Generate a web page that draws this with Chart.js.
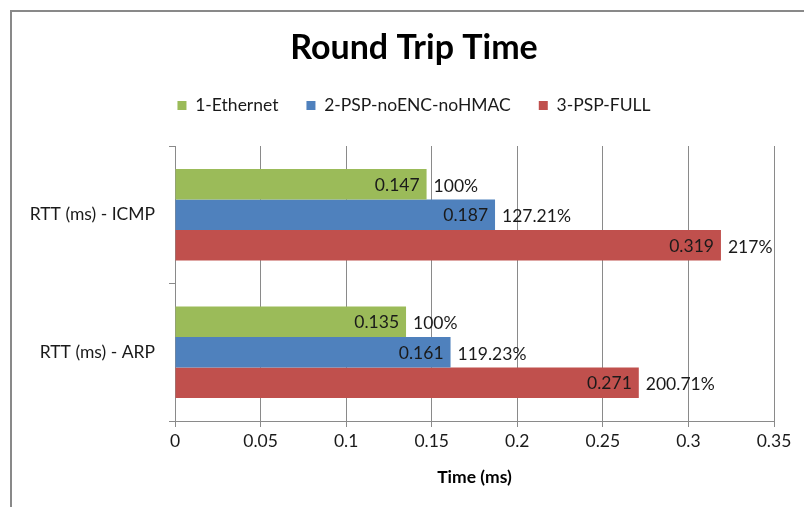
<!DOCTYPE html>
<html>
<head>
<meta charset="utf-8">
<script src="https://cdn.jsdelivr.net/npm/chart.js@4/dist/chart.umd.min.js"></script>
<style>
  html, body { margin: 0; padding: 0; background: #fff; }
  #wrap { position: relative; width: 804px; height: 507px; overflow: hidden; }
  #frame { position: absolute; left: 10px; top: 10px; width: 900px; height: 600px;
           border-left: 2px solid #898989; border-top: 2px solid #898989; pointer-events: none; }
  canvas { position: absolute; left: 0; top: 0; }
</style>
</head>
<body>
<div id="wrap">
  <canvas id="c" width="804" height="507"></canvas>
  <div id="frame"></div>
</div>
<script>
const categories = ['RTT (ms) - ICMP', 'RTT (ms) - ARP'];
const seriesNames = ['1-Ethernet', '2-PSP-noENC-noHMAC', '3-PSP-FULL'];
const ethernet = [0.147, 0.135];
const pspNoEnc = [0.187, 0.161];
const pspFull = [0.319, 0.271];
const ethernetPct = ['100%', '100%'];
const pspNoEncPct = ['127.21%', '119.23%'];
const pspFullPct = ['217%', '200.71%'];
const xTicks = [0, 0.05, 0.1, 0.15, 0.2, 0.25, 0.3, 0.35];

const FONT = 'Lato';
const FS = 17.5;
const colors = ['#9BBB59', '#4F81BD', '#C0504D'];
const pctLabels = [ethernetPct, pspNoEncPct, pspFullPct];

const labelPlugin = {
  id: 'barLabels',
  afterInit(chart) {
    const lg = chart.legend;
    if (lg) {
      const f = lg.fit;
      lg.fit = function () { f.call(this); this.height += 21.7; };
    }
  },
  afterDatasetsDraw(chart) {
    const ctx = chart.ctx;
    ctx.save();
    ctx.font = FS + 'px ' + FONT;
    ctx.fillStyle = '#1a1a1a';
    ctx.textBaseline = 'middle';
    chart.data.datasets.forEach((ds, di) => {
      const meta = chart.getDatasetMeta(di);
      meta.data.forEach((el, i) => {
        const v = ds.data[i];
        ctx.textAlign = 'right';
        ctx.fillText(String(v), el.x - 7, el.y + 1);
        ctx.textAlign = 'left';
        ctx.fillText(pctLabels[di][i], el.x + 7, el.y + 2);
      });
    });
    ctx.restore();
  }
};

new Chart(document.getElementById('c'), {
  type: 'bar',
  data: {
    labels: categories,
    datasets: [
      { label: seriesNames[0], data: ethernet, backgroundColor: colors[0] },
      { label: seriesNames[1], data: pspNoEnc, backgroundColor: colors[1] },
      { label: seriesNames[2], data: pspFull, backgroundColor: colors[2] }
    ]
  },
  options: {
    indexAxis: 'y',
    responsive: false,
    animation: false,
    devicePixelRatio: 1,
    layout: { padding: { left: 24, right: 0, top: 0, bottom: 0 } },
    datasets: { bar: { categoryPercentage: 0.667, barPercentage: 1.0 } },
    plugins: {
      title: {
        display: true,
        text: 'Round Trip Time',
        color: '#000',
        font: { family: FONT, size: 34, weight: 'bold' },
        padding: { top: 28, bottom: 0 }
      },
      legend: {
        display: true,
        position: 'top',
        labels: {
          color: '#1a1a1a',
          font: { family: FONT, size: FS },
          boxWidth: 9,
          boxHeight: 9,
          padding: 28
        }
      },
      tooltip: { enabled: false }
    },
    scales: {
      x: {
        type: 'linear',
        position: 'bottom',
        min: 0,
        max: 0.35,
        afterBuildTicks(scale) { scale.ticks = xTicks.map(v => ({ value: v })); },
        afterFit(scale) { scale.height = 86; },
        ticks: {
          color: '#1a1a1a',
          font: { family: FONT, size: FS },
          padding: 4,
          callback: (v) => String(v)
        },
        grid: { color: '#8a8a8a', lineWidth: 1, tickLength: 6, drawTicks: true },
        border: { display: true, color: '#8a8a8a' },
        title: {
          display: true,
          text: 'Time (ms)',
          color: '#000',
          font: { family: FONT, size: FS, weight: 'bold' },
          padding: { top: 0, bottom: 19 }
        }
      },
      y: {
        type: 'category',
        position: 'left',
        offset: true,
        afterFit(scale) { scale.width = 151; },
        ticks: { color: '#1a1a1a', font: { family: FONT, size: FS }, padding: 14 },
        grid: { offset: true, drawOnChartArea: false, drawTicks: true, tickLength: 6, color: '#8a8a8a' },
        border: { display: true, color: '#8a8a8a' }
      },
      yR: {
        type: 'linear',
        position: 'right',
        display: true,
        afterFit(scale) { scale.width = 30; },
        ticks: { display: false },
        grid: { display: false, drawTicks: false },
        border: { display: false }
      }
    }
  },
  plugins: [labelPlugin]
});
</script>
</body>
</html>
